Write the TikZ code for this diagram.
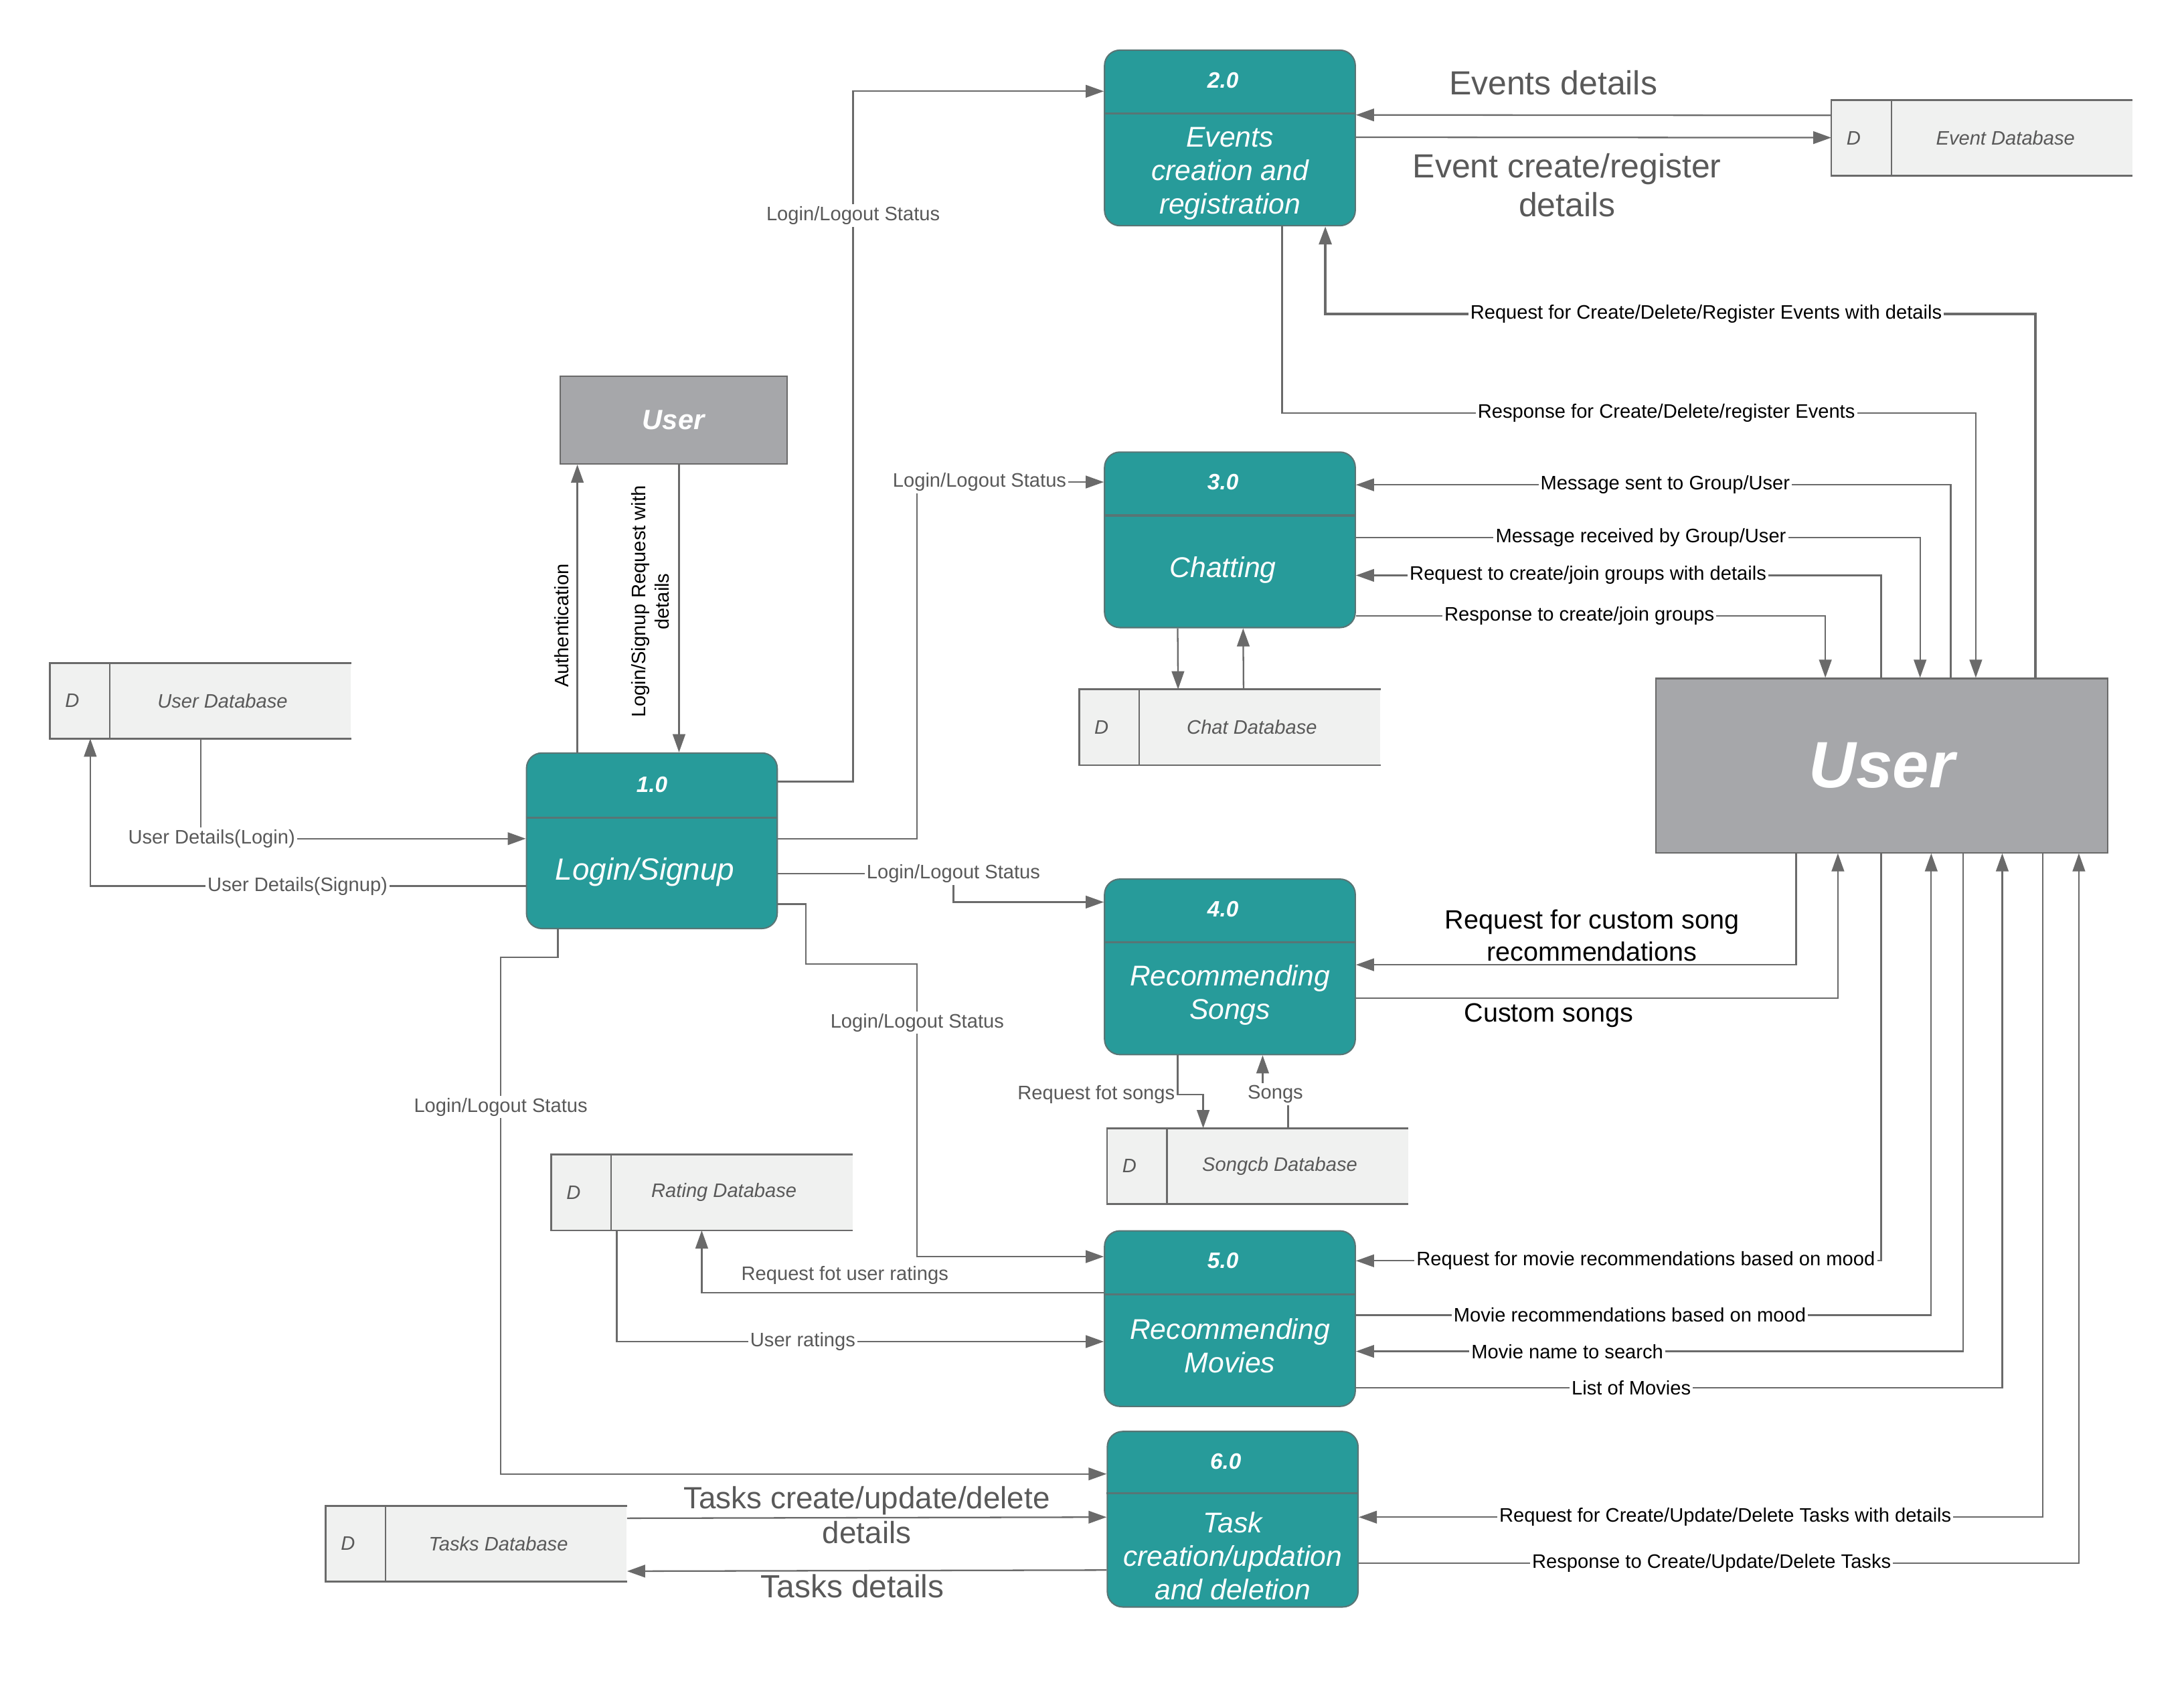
\documentclass[tikz,border=0pt]{standalone}
\usepackage{fontspec}
\setmainfont{Liberation Sans}
\usepackage{xcolor}
\usepackage{tikz}
\usetikzlibrary{arrows.meta,positioning,calc}

\definecolor{procteal}{HTML}{279B9A}
\definecolor{procline}{HTML}{587575}
\definecolor{extgray}{HTML}{A6A7AA}
\definecolor{storefill}{HTML}{F0F1F0}
\definecolor{edgegray}{HTML}{6A6A6A}
\definecolor{labelgray}{HTML}{595959}

\begin{document}
\begin{tikzpicture}[x=1pt, y=-1pt,
    proc/.style={rectangle, rounded corners=11pt, draw=procline, line width=1pt, fill=procteal, minimum width=180pt, minimum height=126pt},
    procdiv/.style={draw=procline, line width=1.5pt},
    procnum/.style={text=white, font=\fontsize{16}{19}\selectfont\bfseries\itshape},
    procname/.style={text=white, align=center, font=\fontsize{20.5}{24}\selectfont\itshape},
    ext/.style={rectangle, draw=edgegray, line width=1pt, fill=extgray, text=white},
    store/.style={rectangle, fill=storefill, minimum width=216pt, minimum height=54pt},
    storeline/.style={draw=edgegray, line width=1.3pt},
    storetext/.style={text=labelgray, font=\fontsize{14}{17}\selectfont\itshape},
    flow/.style={draw=edgegray, line width=1.1pt, -{Triangle[length=13pt,width=9pt]}},
    lbl/.style={fill=white, inner sep=1.5pt, text=black, font=\fontsize{14}{17}\selectfont},
    lblg/.style={lbl, text=labelgray},
    biglbl/.style={inner sep=2pt, text=labelgray, align=center, font=\fontsize{24}{28}\selectfont},
    midlbl/.style={inner sep=2pt, text=black, align=center, font=\fontsize{19}{23}\selectfont}]

\useasboundingbox (0,0) rectangle (1568,1207.6);

% processes
\node (p1) [proc] at (468,603.5) {};
\draw [procdiv] ($(p1.north west)+(0,47)$) -- ($(p1.north east)+(0,47)$);
\node [procnum] at ($(p1.north)+(0,23)$) {1.0};
\node [procname, font=\fontsize{22}{26}\selectfont\itshape] at ($(p1.north)+(-5,86)$) {Login/Signup};

\node (p2) [proc] at (883,99) {};
\draw [procdiv] ($(p2.north west)+(0,46)$) -- ($(p2.north east)+(0,46)$);
\node [procnum] at ($(p2.north)+(-5,22)$) {2.0};
\node [procname] at ($(p2.north)+(0,89)$) {Events\\creation and\\registration};

\node (p3) [proc] at (883,387.5) {};
\draw [procdiv] ($(p3.north west)+(0,46)$) -- ($(p3.north east)+(0,46)$);
\node [procnum] at ($(p3.north)+(-5,22)$) {3.0};
\node [procname] at ($(p3.north)+(-5,85)$) {Chatting};

\node (p4) [proc] at (883,694) {};
\draw [procdiv] ($(p4.north west)+(0,46)$) -- ($(p4.north east)+(0,46)$);
\node [procnum] at ($(p4.north)+(-5,22)$) {4.0};
\node [procname] at ($(p4.north)+(0,84)$) {Recommending\\Songs};

\node (p5) [proc] at (883,946.5) {};
\draw [procdiv] ($(p5.north west)+(0,46)$) -- ($(p5.north east)+(0,46)$);
\node [procnum] at ($(p5.north)+(-5,22)$) {5.0};
\node [procname] at ($(p5.north)+(0,83)$) {Recommending\\Movies};

\node (p6) [proc] at (885,1090.5) {};
\draw [procdiv] ($(p6.north west)+(0,45)$) -- ($(p6.north east)+(0,45)$);
\node [procnum] at ($(p6.north)+(-5,22)$) {6.0};
\node [procname] at ($(p6.north)+(0,90)$) {Task\\creation/updation\\and deletion};

% external entities
\node (uSmall) [ext, minimum width=163pt, minimum height=63pt, font=\fontsize{20}{24}\selectfont\bfseries\itshape] at (483.5,301.5) {User};
\node (uBig) [ext, minimum width=324pt, minimum height=125pt, font=\fontsize{47}{56}\selectfont\bfseries\itshape] at (1351,549.5) {User};

% data stores
\node (dbUser) [store] at (144,503) {};
\draw [storeline] (dbUser.north east) -- (dbUser.north west) -- (dbUser.south west) -- (dbUser.south east);
\draw [storeline, line width=1pt] ($(dbUser.north west)+(43,0)$) -- ($(dbUser.south west)+(43,0)$);
\node [storetext] at ($(dbUser.west)+(16,0)$) {D};
\node [storetext] at ($(dbUser.west)+(124,0)$) {User Database};

\node (dbEvent) [store] at (1423,99) {};
\draw [storeline] (dbEvent.north east) -- (dbEvent.north west) -- (dbEvent.south west) -- (dbEvent.south east);
\draw [storeline, line width=1pt] ($(dbEvent.north west)+(43,0)$) -- ($(dbEvent.south west)+(43,0)$);
\node [storetext] at ($(dbEvent.west)+(16,0)$) {D};
\node [storetext] at ($(dbEvent.west)+(125,0)$) {Event Database};

\node (dbChat) [store] at (883,522) {};
\draw [storeline] (dbChat.north east) -- (dbChat.north west) -- (dbChat.south west) -- (dbChat.south east);
\draw [storeline, line width=1pt] ($(dbChat.north west)+(43,0)$) -- ($(dbChat.south west)+(43,0)$);
\node [storetext] at ($(dbChat.west)+(16,0)$) {D};
\node [storetext] at ($(dbChat.west)+(124,0)$) {Chat Database};

\node (dbSong) [store] at (903,837) {};
\draw [storeline] (dbSong.north east) -- (dbSong.north west) -- (dbSong.south west) -- (dbSong.south east);
\draw [storeline, line width=1pt] ($(dbSong.north west)+(43,0)$) -- ($(dbSong.south west)+(43,0)$);
\node [storetext] at ($(dbSong.west)+(16,0)$) {D};
\node [storetext] at ($(dbSong.west)+(124,0)$) {Songcb Database};

\node (dbRating) [store] at (504,856) {};
\draw [storeline] (dbRating.north east) -- (dbRating.north west) -- (dbRating.south west) -- (dbRating.south east);
\draw [storeline, line width=1pt] ($(dbRating.north west)+(43,0)$) -- ($(dbRating.south west)+(43,0)$);
\node [storetext] at ($(dbRating.west)+(16,0)$) {D};
\node [storetext] at ($(dbRating.west)+(124,0)$) {Rating Database};

\node (dbTask) [store] at (342,1108) {};
\draw [storeline] (dbTask.north east) -- (dbTask.north west) -- (dbTask.south west) -- (dbTask.south east);
\draw [storeline, line width=1pt] ($(dbTask.north west)+(43,0)$) -- ($(dbTask.south west)+(43,0)$);
\node [storetext] at ($(dbTask.west)+(16,0)$) {D};
\node [storetext] at ($(dbTask.west)+(124,0)$) {Tasks Database};

% login/signup flows
\draw [flow] ($(p1.north east)+(0,21)$) -- ++(54,0) |- node[lblg, pos=0.41] {Login/Logout Status} ($(p2.north west)+(0,30)$);
\draw [flow] ($(p1.north east)+(0,62)$) -- ++(100,0) |- node[lblg, pos=0.667] {Login/Logout Status} ($(p3.north west)+(0,22)$);
\draw [flow] ($(p1.north east)+(0,87)$) -- ++(126,0) node[lblg] {Login/Logout Status} |- ($(p4.north west)+(0,17)$);
\draw [flow] ($(p1.north east)+(0,109)$) -- ++(20,0) -- ++(0,43) -- ++(80,0) |- node[lblg, pos=0.1] {Login/Logout Status} ($(p5.north west)+(0,19)$);
\draw [flow] ($(p1.south west)+(23,0)$) -- ++(0,20) -- ++(-41,0) |- node[lblg, pos=0.145] {Login/Logout Status} ($(p6.north west)+(0,31)$);
\draw [flow] (dbUser.south) |- node[lblg, pos=0.517] {User Details(Login)} ($(p1.north west)+(0,62)$);
\draw [flow] ($(p1.north west)+(0,96)$) -| node[lblg, pos=0.262] {User Details(Signup)} ($(dbUser.south west)+(29,0)$);
\draw [flow] ($(p1.north west)+(37,0)$) -- node[lbl, fill=none, pos=0.44, rotate=90, above, yshift=4pt] {Authentication} ($(uSmall.south west)+(13,0)$);
\draw [flow] ($(uSmall.south west)+(86,0)$) -- node[lbl, fill=none, pos=0.476, rotate=90, above, yshift=5pt, align=center] {Login/Signup Request with\\details} ($(p1.north west)+(110,0)$);

% events flows
\draw [flow] ($(dbEvent.north west)+(0,11)$) -- node[biglbl, pos=0.585, above=12pt] {Events details} ($(p2.north east)+(0,47)$);
\draw [flow] ($(p2.north east)+(0,63)$) -- node[biglbl, pos=0.444, below=9pt] {Event create/register\\details} ($(dbEvent.north west)+(0,27)$);
\draw [flow, line width=2pt] ($(uBig.north west)+(273,0)$) |- node[lbl, pos=0.732] {Request for Create/Delete/Register Events with details} ($(p2.south east)+(-22,63)$) -- ($(p2.south east)+(-22,0)$);
\draw [flow] ($(p2.south west)+(128,0)$) |- node[lbl, pos=0.777] {Response for Create/Delete/register Events} ($(uBig.north west)+(230,-190)$) -- ($(uBig.north west)+(230,0)$);

% chatting flows
\draw [flow] ($(uBig.north west)+(212,0)$) |- node[lbl, pos=0.74] {Message sent to Group/User} ($(p3.north east)+(0,24)$);
\draw [flow] ($(p3.north east)+(0,62)$) -| node[lbl, pos=0.2525] {Message received by Group/User} ($(uBig.north west)+(190,0)$);
\draw [flow] ($(uBig.north west)+(162,0)$) |- node[lbl, pos=0.779] {Request to create/join groups with details} ($(p3.north east)+(0,89)$);
\draw [flow] ($(p3.north east)+(0,118)$) -| node[lbl, pos=0.238] {Response to create/join groups} ($(uBig.north west)+(122,0)$);
\draw [flow] ($(p3.south west)+(53,0)$) -- ($(dbChat.north west)+(71,0)$);
\draw [flow] ($(dbChat.north west)+(118,0)$) -- ($(p3.south west)+(100,0)$);

% songs flows
\draw [flow] ($(uBig.south west)+(101,0)$) |- node[midlbl, pos=0.732, above=0pt] {Request for custom song\\recommendations} ($(p4.north east)+(0,62)$);
\draw [flow] ($(p4.north east)+(0,86)$) -| node[midlbl, pos=0.2, below=1pt] {Custom songs} ($(uBig.south west)+(131,0)$);
\draw [flow] ($(p4.south west)+(53,0)$) -- ++(0,28) node[lblg, anchor=east] {Request fot songs} -| ($(dbSong.north west)+(69,0)$);
\draw [flow] ($(dbSong.north west)+(130,0)$) |- node[lblg, pos=0.75] {Songs} ($(p4.south west)+(114,28)$) -- ($(p4.south west)+(114,0)$);

% movies flows
\draw [flow] ($(p5.north west)+(0,45)$) -| node[lblg, pos=0.322, above=4pt] {Request fot user ratings} ($(dbRating.south west)+(108,0)$);
\draw [flow] ($(dbRating.south west)+(47,0)$) |- node[lblg, pos=0.691] {User ratings} ($(p5.north west)+(0,80)$);
\draw [flow] ($(uBig.south west)+(162,0)$) |- node[lbl, pos=0.724] {Request for movie recommendations based on mood} ($(p5.north east)+(0,22)$);
\draw [flow] ($(p5.north east)+(0,61)$) -| node[lbl, pos=0.238] {Movie recommendations based on mood} ($(uBig.south west)+(198,0)$);
\draw [flow] ($(uBig.south west)+(221,0)$) |- node[lbl, pos=0.826] {Movie name to search} ($(p5.north east)+(0,87)$);
\draw [flow] ($(p5.north east)+(0,113)$) -| node[lbl, pos=0.213] {List of Movies} ($(uBig.south west)+(249,0)$);

% tasks flows
\draw [flow] ($(uBig.south west)+(278,0)$) |- node[lbl, pos=0.732] {Request for Create/Update/Delete Tasks with details} ($(p6.north east)+(0,62)$);
\draw [flow] ($(p6.north east)+(0,95)$) -| node[lbl, pos=0.245] {Response to Create/Update/Delete Tasks} ($(uBig.south west)+(304,0)$);
\draw [flow] ($(dbTask.north east)+(0,9)$) -- node[biglbl, midway, yshift=2pt, font=\fontsize{22}{25}\selectfont] {Tasks create/update/delete\\details} ($(p6.north west)+(0,62)$);
\draw [flow] ($(p6.north west)+(0,100)$) -- node[biglbl, pos=0.53, below=0pt, font=\fontsize{23}{25}\selectfont] {Tasks details} ($(dbTask.north east)+(0,47)$);
\end{tikzpicture}
\end{document}
